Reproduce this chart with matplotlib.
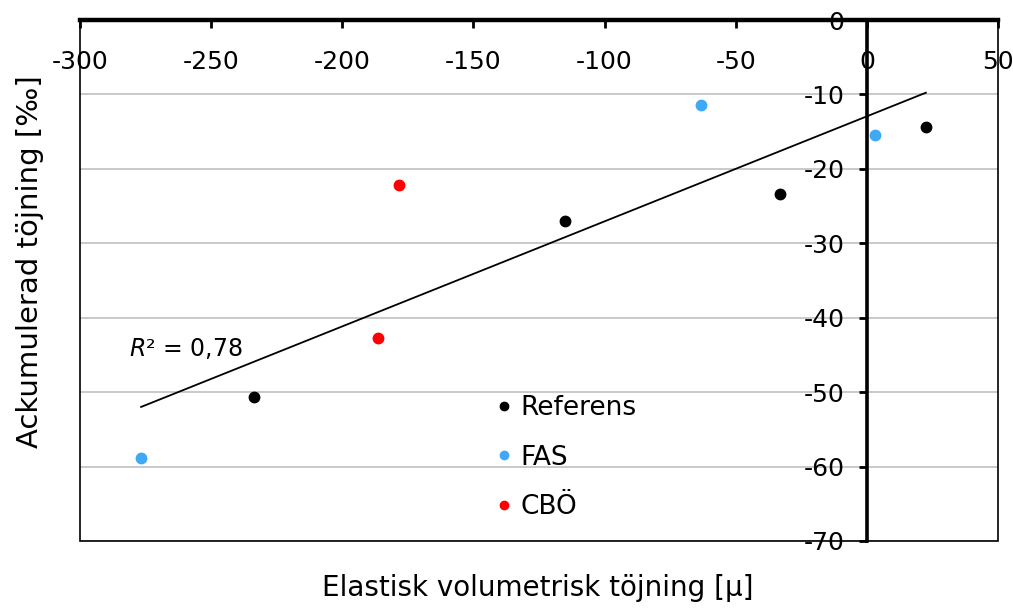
import numpy as np
import matplotlib
matplotlib.use("Agg")
import matplotlib.pyplot as plt
from matplotlib.patches import Rectangle

plt.rcParams['font.family'] = ['DejaVu Sans']

# Data
ref_x = [-233.7, -115.1, -33.1, 22.5]
ref_y = [-50.7, -27.0, -23.4, -14.4]
fas_x = [-276.7, -63.2, 3.1]
fas_y = [-58.9, -11.4, -15.5]
cbo_x = [-178.4, -186.4]
cbo_y = [-22.2, -42.7]
series_names = ["Referens", "FAS", "CBÖ"]
series_colors = ["#000000", "#3FA9F5", "#FF0000"]
x_ticks = [-300, -250, -200, -150, -100, -50, 0, 50]
y_ticks = [0, -10, -20, -30, -40, -50, -60, -70]
xlabel = "Elastisk volumetrisk töjning [µ]"
ylabel = "Ackumulerad töjning [‰]"

fig = plt.figure(figsize=(10.13, 6.08), dpi=100)
ax = fig.add_axes([80/1013, 1-541/608, 918/1013, 521/608])

xs = [ref_x, fas_x, cbo_x]
ys = [ref_y, fas_y, cbo_y]
for x, y, n, c in zip(xs, ys, series_names, series_colors):
    ax.plot(x, y, 'o', color=c, markersize=7.5, label=n, zorder=4)

# trendline over all points
allx = np.array(ref_x + fas_x + cbo_x)
ally = np.array(ref_y + fas_y + cbo_y)
k, m = np.polyfit(allx, ally, 1)
r2 = np.corrcoef(allx, ally)[0, 1] ** 2
xl = np.array([allx.min(), allx.max()])
ax.plot(xl, k * xl + m, color='black', lw=1.3, zorder=3)
ax.text(-281.5, -44.2, r"$R$² = " + f"{r2:.2f}".replace('.', ','), fontsize=17,
        ha='left', va='center')

ax.set_xlim(-300, 50)
ax.set_ylim(-70, 0)
ax.set_xticks(x_ticks)
ax.set_yticks(y_ticks)
ax.set_xticklabels([str(v) for v in x_ticks])
ax.set_yticklabels([str(v) for v in y_ticks])

ax.grid(axis='y', color='#C0C0C0', lw=1.2, zorder=0)
ax.set_axisbelow(True)

# spines
for s in ['right', 'bottom']:
    ax.spines[s].set_visible(False)
ax.add_patch(Rectangle((0, 0), 1, 1, transform=ax.transAxes, fill=False,
                       lw=1.2, edgecolor='black', zorder=5, clip_on=False))
ax.spines['left'].set_position(('data', 0))
ax.spines['left'].set_linewidth(2.6)
ax.spines['left'].set_zorder(6)
ax.spines['top'].set_linewidth(3.2)
ax.spines['top'].set_zorder(6)

ax.xaxis.tick_top()
ax.tick_params(axis='x', direction='in', length=6, width=2, pad=-39,
               labelsize=18)
ax.tick_params(axis='y', direction='out', length=6, width=2, pad=10,
               labelsize=18)

ax.legend(loc='center left', bbox_to_anchor=(0.422, 0.16), frameon=False,
          fontsize=19, handletextpad=0.1, labelspacing=0.88, markerscale=0.8,
          handlelength=1.0)

fig.text(538/1013, 1-588/608, xlabel, fontsize=20, ha='center', va='center')
fig.text(30/1013, 1-262/608, ylabel, fontsize=21, ha='center', va='center',
         rotation=90)

fig.savefig("out.png", dpi=100)
